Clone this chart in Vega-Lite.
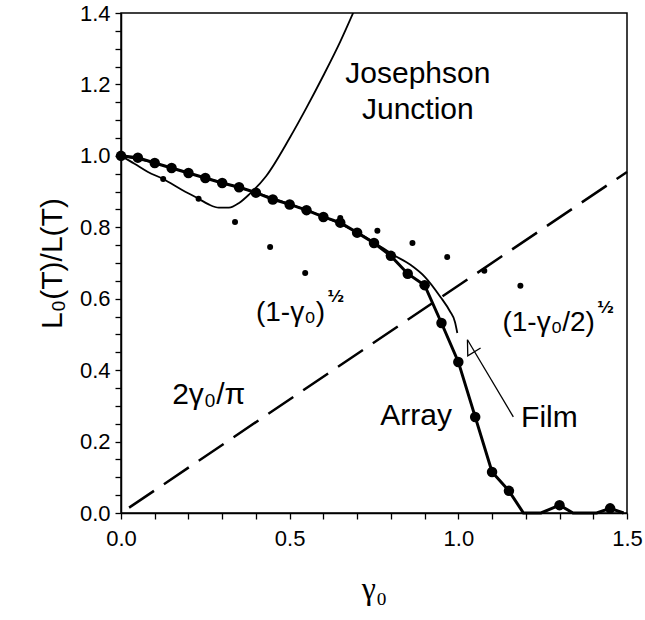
{
  "$schema": "https://vega.github.io/schema/vega-lite/v6.json",
  "width": 506,
  "height": 500,
  "autosize": {"type": "none"},
  "padding": {"left": 121, "top": 13, "right": 18, "bottom": 107},
  "background": "white",
  "config": {
    "view": {"stroke": "black", "strokeWidth": 1.5},
    "font": "Liberation Sans",
    "axis": {
      "domainColor": "black",
      "domainWidth": 1.5,
      "tickColor": "black",
      "tickWidth": 1.3,
      "tickSize": 6,
      "grid": false,
      "labelColor": "black",
      "labelFont": "Liberation Sans",
      "labelFontSize": 22,
      "labelOverlap": false,
      "labelFlush": false,
      "titleColor": "black",
      "titleFontWeight": "normal"
    }
  },
  "datasets": {
    "array": [
      {"g": 0.00, "v": 1.000}, {"g": 0.05, "v": 0.995}, {"g": 0.10, "v": 0.980},
      {"g": 0.15, "v": 0.966}, {"g": 0.20, "v": 0.952}, {"g": 0.25, "v": 0.938},
      {"g": 0.30, "v": 0.924}, {"g": 0.35, "v": 0.912}, {"g": 0.40, "v": 0.897},
      {"g": 0.45, "v": 0.878}, {"g": 0.50, "v": 0.864}, {"g": 0.55, "v": 0.848},
      {"g": 0.60, "v": 0.829}, {"g": 0.65, "v": 0.813}, {"g": 0.70, "v": 0.785},
      {"g": 0.75, "v": 0.756}, {"g": 0.80, "v": 0.720}, {"g": 0.85, "v": 0.670},
      {"g": 0.90, "v": 0.638}, {"g": 0.95, "v": 0.532}, {"g": 1.00, "v": 0.423},
      {"g": 1.05, "v": 0.269}, {"g": 1.10, "v": 0.115}, {"g": 1.15, "v": 0.062},
      {"g": 1.30, "v": 0.022}, {"g": 1.45, "v": 0.013}
    ],
    "arrayLine": [
      {"g": 0.00, "v": 1.000}, {"g": 0.05, "v": 0.995}, {"g": 0.10, "v": 0.980},
      {"g": 0.15, "v": 0.966}, {"g": 0.20, "v": 0.952}, {"g": 0.25, "v": 0.938},
      {"g": 0.30, "v": 0.924}, {"g": 0.35, "v": 0.912}, {"g": 0.40, "v": 0.897},
      {"g": 0.45, "v": 0.878}, {"g": 0.50, "v": 0.864}, {"g": 0.55, "v": 0.848},
      {"g": 0.60, "v": 0.829}, {"g": 0.65, "v": 0.813}, {"g": 0.70, "v": 0.785},
      {"g": 0.75, "v": 0.756}, {"g": 0.80, "v": 0.720}, {"g": 0.85, "v": 0.670},
      {"g": 0.90, "v": 0.638}, {"g": 0.95, "v": 0.532}, {"g": 1.00, "v": 0.423},
      {"g": 1.05, "v": 0.269}, {"g": 1.10, "v": 0.115}, {"g": 1.15, "v": 0.062},
      {"g": 1.193, "v": 0.0}, {"g": 1.245, "v": 0.0}, {"g": 1.30, "v": 0.022},
      {"g": 1.34, "v": 0.0}, {"g": 1.41, "v": 0.0}, {"g": 1.45, "v": 0.013},
      {"g": 1.49, "v": 0.0}
    ],
    "film": [
      {"g": 0.00, "v": 1.000}, {"g": 0.10, "v": 0.980}, {"g": 0.20, "v": 0.952},
      {"g": 0.30, "v": 0.925}, {"g": 0.40, "v": 0.897}, {"g": 0.50, "v": 0.865},
      {"g": 0.60, "v": 0.830}, {"g": 0.70, "v": 0.786}, {"g": 0.75, "v": 0.758},
      {"g": 0.807, "v": 0.723}, {"g": 0.858, "v": 0.695}, {"g": 0.902, "v": 0.660},
      {"g": 0.947, "v": 0.605}, {"g": 0.975, "v": 0.565}, {"g": 0.99, "v": 0.535},
      {"g": 0.997, "v": 0.504}
    ],
    "jj": [
      {"g": 0.00, "v": 1.000}, {"g": 0.04, "v": 0.978}, {"g": 0.08, "v": 0.955},
      {"g": 0.125, "v": 0.935}, {"g": 0.18, "v": 0.905}, {"g": 0.23, "v": 0.880},
      {"g": 0.26, "v": 0.864}, {"g": 0.29, "v": 0.855}, {"g": 0.32, "v": 0.855},
      {"g": 0.35, "v": 0.868}, {"g": 0.38, "v": 0.892}, {"g": 0.43, "v": 0.943},
      {"g": 0.50, "v": 1.050}, {"g": 0.55, "v": 1.135}, {"g": 0.60, "v": 1.225},
      {"g": 0.65, "v": 1.320}, {"g": 0.695, "v": 1.415}
    ],
    "smallDots": [
      {"g": 0.125, "v": 0.935}, {"g": 0.23, "v": 0.880}, {"g": 0.338, "v": 0.815},
      {"g": 0.442, "v": 0.745}, {"g": 0.546, "v": 0.672},
      {"g": 0.65, "v": 0.826}, {"g": 0.76, "v": 0.790}, {"g": 0.864, "v": 0.756},
      {"g": 0.967, "v": 0.717}, {"g": 1.077, "v": 0.678}, {"g": 1.184, "v": 0.636}
    ],
    "dashed": [
      {"g": 0.024, "v": 0.015}, {"g": 1.5, "v": 0.955}
    ],
    "arrow": [
      {"seg": "shaft", "g": 1.163, "v": 0.269}, {"seg": "shaft", "g": 1.027, "v": 0.485},
      {"seg": "head", "g": 1.028, "v": 0.440}, {"seg": "head", "g": 1.027, "v": 0.485},
      {"seg": "head", "g": 1.066, "v": 0.462}
    ],
    "words": [
      {"g": 0.88, "v": 1.228, "t": "Josephson"},
      {"g": 0.88, "v": 1.128, "t": "Junction"},
      {"g": 0.875, "v": 0.272, "t": "Array"},
      {"g": 1.27, "v": 0.266, "t": "Film"},
      {"g": 0.26, "v": 0.33, "t": "2γ₀/π"}
    ],
    "formulas": [
      {"g": 0.605, "v": 0.56, "t": "(1-γ₀)"},
      {"g": 1.405, "v": 0.532, "t": "(1-γ₀/2)"}
    ],
    "halves": [
      {"g": 0.612, "v": 0.605, "t": "½"},
      {"g": 1.412, "v": 0.575, "t": "½"}
    ]
  },
  "encoding": {
    "x": {
      "field": "g", "type": "quantitative",
      "scale": {"domain": [0, 1.5], "nice": false, "zero": false},
      "axis": {
        "title": "γ₀",
        "titleFont": "Liberation Serif",
        "titleFontSize": 32,
        "titlePadding": 24,
        "labelPadding": 9,
        "values": [0, 0.1, 0.2, 0.3, 0.4, 0.5, 0.6, 0.7, 0.8, 0.9, 1, 1.1, 1.2, 1.3, 1.4, 1.5],
        "labelExpr": "indexof([0, 0.5, 1, 1.5], datum.value) >= 0 ? format(datum.value, '.1f') : ''"
      }
    },
    "y": {
      "field": "v", "type": "quantitative",
      "scale": {"domain": [0, 1.4], "nice": false, "zero": false},
      "axis": {
        "title": "L₀(T)/L(T)",
        "titleFontSize": 30,
        "titlePadding": 12,
        "labelPadding": 5,
        "values": [0, 0.05, 0.1, 0.15, 0.2, 0.25, 0.3, 0.35, 0.4, 0.45, 0.5, 0.55, 0.6, 0.65, 0.7, 0.75, 0.8, 0.85, 0.9, 0.95, 1, 1.05, 1.1, 1.15, 1.2, 1.25, 1.3, 1.35, 1.4],
        "labelExpr": "indexof([0, 0.2, 0.4, 0.6, 0.8, 1, 1.2, 1.4], datum.value) >= 0 ? format(datum.value, '.1f') : ''"
      }
    }
  },
  "layer": [
    {
      "data": {"name": "dashed"},
      "mark": {"type": "line", "color": "black", "strokeWidth": 2.5, "strokeDash": [30, 12]},
      "encoding": {}
    },
    {
      "data": {"name": "jj"},
      "mark": {"type": "line", "color": "black", "strokeWidth": 1.8, "interpolate": "monotone", "clip": true},
      "encoding": {}
    },
    {
      "data": {"name": "film"},
      "mark": {"type": "line", "color": "black", "strokeWidth": 1.8, "interpolate": "monotone"},
      "encoding": {}
    },
    {
      "data": {"name": "arrayLine"},
      "mark": {"type": "line", "color": "black", "strokeWidth": 3},
      "encoding": {}
    },
    {
      "data": {"name": "array"},
      "mark": {"type": "point", "filled": true, "color": "black", "opacity": 1, "size": 110},
      "encoding": {}
    },
    {
      "data": {"name": "smallDots"},
      "mark": {"type": "point", "filled": true, "color": "black", "opacity": 1, "size": 36},
      "encoding": {}
    },
    {
      "data": {"name": "arrow"},
      "mark": {"type": "line", "color": "black", "strokeWidth": 1.3},
      "encoding": {"detail": {"field": "seg"}, "order": {"value": 0}}
    },
    {
      "data": {"name": "words"},
      "mark": {"type": "text", "color": "black", "fontSize": 30, "align": "center", "baseline": "middle", "font": "Liberation Sans"},
      "encoding": {"text": {"field": "t"}}
    },
    {
      "data": {"name": "formulas"},
      "mark": {"type": "text", "color": "black", "fontSize": 28, "align": "right", "baseline": "middle", "font": "Liberation Sans"},
      "encoding": {"text": {"field": "t"}}
    },
    {
      "data": {"name": "halves"},
      "mark": {"type": "text", "color": "black", "fontSize": 16, "fontWeight": "bold", "align": "left", "baseline": "middle", "font": "DejaVu Sans"},
      "encoding": {"text": {"field": "t"}}
    }
  ]
}
